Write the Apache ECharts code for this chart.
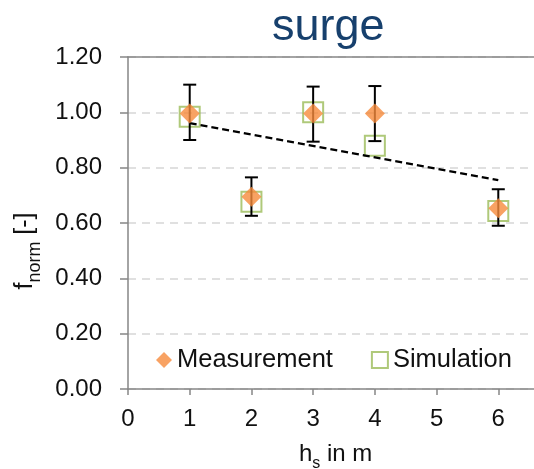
<!DOCTYPE html>
<html>
<head>
<meta charset="utf-8">
<script src="https://cdn.jsdelivr.net/npm/echarts@6/dist/echarts.min.js"></script>
<style>
  html, body { margin: 0; padding: 0; background: #fff; }
  #main { width: 534px; height: 469px; }
</style>
</head>
<body>
<div id="main"></div>
<script>
    // values
    const xValues = [1, 2, 3, 4, 6];
    const measurement = [0.996, 0.695, 0.996, 0.996, 0.653];
    const simulation = [0.984, 0.677, 1.0, 0.879, 0.643];
    const errLow = [0.90, 0.626, 0.894, 0.896, 0.59];
    const errHigh = [1.10, 0.765, 1.093, 1.095, 0.722];
    const trendX = [1, 6];
    const trendY = [0.961, 0.755];

    const font = 'Liberation Sans, Arial, sans-serif';

    var myChart = echarts.init(document.getElementById('main'));

    let measData = xValues.map((x, i) => [x, measurement[i]]);
    let simData = xValues.map((x, i) => [x, simulation[i]]);
    let errData = xValues.map((x, i) => [x, errLow[i], errHigh[i]]);
    let trendData = trendX.map((x, i) => [x, trendY[i]]);

    let option = {
        animation: false,
        title: [
            {
                text: 'surge',
                left: 267,
                top: 0,
                textStyle: { fontFamily: font, fontSize: 45, fontWeight: 'normal', color: '#17406d' }
            },
            {
                text: '{a|h}{b|s}{a| in m}',
                left: 294,
                top: 437,
                textStyle: {
                    rich: {
                        a: { fontFamily: font, fontSize: 24, fontWeight: 'normal', color: '#111', lineHeight: 26, verticalAlign: 'top' },
                        b: { fontFamily: font, fontSize: 16, fontWeight: 'normal', color: '#111', lineHeight: 16, padding: [14, 0, 0, 0], verticalAlign: 'top' }
                    }
                }
            }
        ],
        legend: {
            left: 151,
            top: 342,
            itemWidth: 16,
            itemHeight: 16,
            itemGap: 38,
            textStyle: { fontFamily: font, fontSize: 25.5, color: '#111' },
            data: [
                { name: 'Measurement', icon: 'diamond' },
                { name: 'Simulation', icon: 'rect' }
            ]
        },
        grid: {
            left: 128,
            top: 57,
            width: 432,
            height: 332,
            containLabel: false,
            outerBoundsMode: 'none'
        },
        xAxis: [
            {
                type: 'value',
                min: 0,
                max: 7,
                interval: 1,
                axisLine: { lineStyle: { color: '#868686', width: 1.5 } },
                axisTick: { show: true, inside: false, length: 6, lineStyle: { color: '#868686', width: 1.5 } },
                axisLabel: { fontFamily: font, fontSize: 24, color: '#111', margin: 18 },
                splitLine: { show: false }
            },
            {
                type: 'value',
                position: 'top',
                min: 0,
                max: 7,
                axisLine: { show: true, lineStyle: { color: '#868686', width: 1.5 } },
                axisTick: { show: false },
                axisLabel: { show: false },
                splitLine: { show: false }
            }
        ],
        yAxis: {
            type: 'value',
            min: 0,
            max: 1.2,
            interval: 0.2,
            name: '{a|f}{b|norm}{a| [-]}',
            nameLocation: 'middle',
            nameGap: 82,
            nameRotate: 90,
            nameTextStyle: {
                padding: [0, 56, 0, 0],
                rich: {
                    a: { fontFamily: font, fontSize: 25, color: '#111', lineHeight: 26, verticalAlign: 'top' },
                    b: { fontFamily: font, fontSize: 18, color: '#111', lineHeight: 18, padding: [14, 0, 0, 0], verticalAlign: 'top' }
                }
            },
            axisLine: { show: true, lineStyle: { color: '#868686', width: 1.5 } },
            axisTick: { show: true, inside: false, length: 8, lineStyle: { color: '#868686', width: 1.5 } },
            axisLabel: {
                fontFamily: font, fontSize: 24, color: '#111', margin: 26,
                formatter: function (v) { return v.toFixed(2); }
            },
            splitLine: { lineStyle: { color: '#d6d6d6', width: 1.5, type: [8, 6] } }
        },
        series: [
            {
                name: 'Simulation',
                type: 'scatter',
                symbol: 'rect',
                symbolSize: 20,
                itemStyle: { color: 'rgba(255,255,255,0)', borderColor: '#9bbb59', borderWidth: 2 },
                data: simData,
                z: 2
            },
            {
                name: 'trend',
                type: 'line',
                symbol: 'none',
                lineStyle: { color: '#000', width: 2.2, type: [7, 4] },
                data: trendData,
                z: 3
            },
            {
                name: 'error',
                type: 'custom',
                renderItem: function (params, api) {
                    let x = api.value(0);
                    let lo = api.coord([x, api.value(1)]);
                    let hi = api.coord([x, api.value(2)]);
                    let w = 6.5;
                    let style = { stroke: '#000', lineWidth: 2 };
                    return {
                        type: 'group',
                        children: [
                            { type: 'line', shape: { x1: lo[0], y1: lo[1], x2: hi[0], y2: hi[1] }, style: style },
                            { type: 'line', shape: { x1: lo[0] - w, y1: lo[1], x2: lo[0] + w, y2: lo[1] }, style: style },
                            { type: 'line', shape: { x1: hi[0] - w, y1: hi[1], x2: hi[0] + w, y2: hi[1] }, style: style }
                        ]
                    };
                },
                encode: { x: 0, y: [1, 2] },
                data: errData,
                z: 4
            },
            {
                name: 'Measurement',
                type: 'scatter',
                symbol: 'diamond',
                symbolSize: 20,
                itemStyle: { color: '#f68b3c' },
                data: measData,
                z: 5
            }
        ]
    };

    myChart.setOption(option);
</script>
</body>
</html>
